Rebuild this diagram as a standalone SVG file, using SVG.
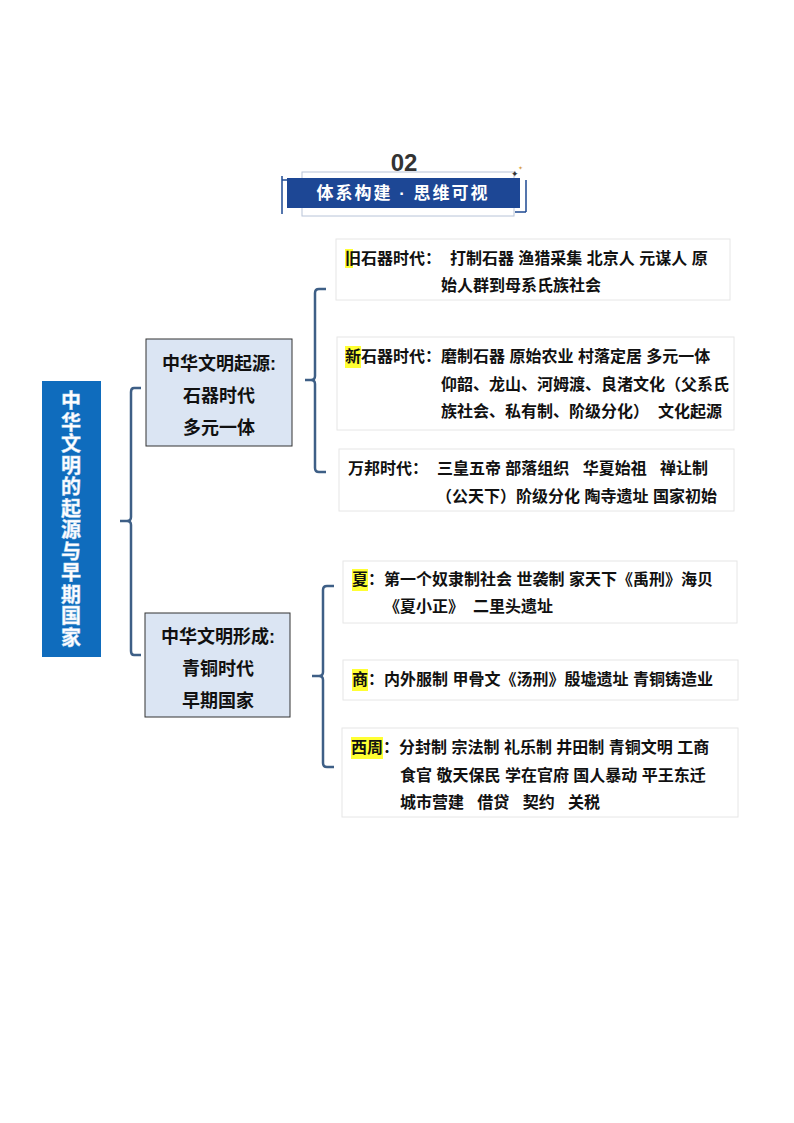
<svg xmlns="http://www.w3.org/2000/svg" width="794" height="1123" viewBox="0 0 794 1123">
<style>
.t{font-family:"Liberation Sans","Noto Sans CJK SC",sans-serif;font-size:16px;font-weight:bold;fill:#111;white-space:pre}
.box{fill:#fff;stroke:#e6e6e6;stroke-width:1}
.mid{fill:#dbe5f3;stroke:#333;stroke-width:1}
.mt{font-family:"Liberation Sans","Noto Sans CJK SC",sans-serif;font-size:18px;font-weight:bold;fill:#111;text-anchor:middle}
.br{fill:none;stroke:#3e5f86;stroke-width:2.5}
.hl{fill:#ffff33}
</style>
<rect width="794" height="1123" fill="#fff"/>
<g id="header">
<text x="404" y="171" font-family="Liberation Sans,sans-serif" font-size="24" font-weight="bold" fill="#333" text-anchor="middle">02</text>
<path d="M282 176 V214 M282 180 H293" stroke="#1e4a93" stroke-width="1.5" fill="none"/>
<path d="M526 180 V212 M526 212 H515" stroke="#1e4a93" stroke-width="1.5" fill="none"/>
<rect x="302" y="172" width="212" height="44" fill="none" stroke="#b8c4d8" stroke-width="1"/>
<rect x="287" y="178" width="233" height="30" fill="#1d4795"/>
<text x="403" y="199" font-family="Liberation Sans,Noto Sans CJK SC,sans-serif" font-size="17" font-weight="bold" fill="#fff" text-anchor="middle" letter-spacing="2">体系构建 · 思维可视</text>
<text x="511" y="177" font-size="9" fill="#333" font-family="DejaVu Sans,sans-serif">✦</text>
<text x="518" y="170" font-size="6" fill="#d9a24a" font-family="DejaVu Sans,sans-serif">✦</text>
</g>
<g id="root">
<rect x="42" y="381" width="59" height="276" fill="#0f6cbd"/>
<text font-family="Liberation Sans,Noto Sans CJK SC,sans-serif" font-size="20" font-weight="bold" fill="#fff" text-anchor="middle" stroke="#cfe0f5" stroke-width="0.5">
<tspan x="71" y="408">中</tspan><tspan x="71" y="429.5">华</tspan><tspan x="71" y="451">文</tspan><tspan x="71" y="472.5">明</tspan><tspan x="71" y="494">的</tspan><tspan x="71" y="515.5">起</tspan><tspan x="71" y="537">源</tspan><tspan x="71" y="558.5">与</tspan><tspan x="71" y="580">早</tspan><tspan x="71" y="601.5">期</tspan><tspan x="71" y="623">国</tspan><tspan x="71" y="644.5">家</tspan>
</text>
</g>
<g id="n1">
<rect class="mid" x="146" y="339" width="146" height="107"/>
<text class="mt" x="219" y="370">中华文明起源:</text>
<text class="mt" x="219" y="402">石器时代</text>
<text class="mt" x="219" y="434">多元一体</text>
</g>
<g id="n2">
<rect class="mid" x="145" y="613" width="145" height="104"/>
<text class="mt" x="218" y="643">中华文明形成:</text>
<text class="mt" x="218" y="675">青铜时代</text>
<text class="mt" x="218" y="707">早期国家</text>
</g>
<g id="connectors">
<path class="br" d="M141 388 H134 Q131 388 131 392 V517 Q131 521 127 521 H120 M127 521 Q131 521 131 525 V651 Q131 655 134 655 H141"/>
<path class="br" d="M326 289 H319 Q315 289 315 293 V376 Q315 380 311 380 H305 M311 380 Q315 380 315 384 V468 Q315 472 319 472 H326"/>
<path class="br" d="M334 586 H327 Q323 586 323 590 V672 Q323 676 319 676 H312 M319 676 Q323 676 323 680 V763 Q323 767 327 767 H334"/>
</g>
<g id="c1">
<rect class="box" x="336" y="239" width="394" height="61"/>
<rect class="hl" x="345" y="249" width="8" height="19"/>
<text class="t" x="345" y="264" xml:space="preserve">旧石器时代：  打制石器 渔猎采集 北京人 元谋人 原</text>
<text class="t" x="441" y="291">始人群到母系氏族社会</text>
</g>
<g id="c2">
<rect class="box" x="337" y="337" width="397" height="93"/>
<rect class="hl" x="345" y="346" width="16" height="22"/>
<text class="t" x="345" y="362" xml:space="preserve">新石器时代：磨制石器 原始农业 村落定居 多元一体</text>
<text class="t" x="441" y="390">仰韶、龙山、河姆渡、良渚文化（父系氏</text>
<text class="t" x="441" y="417" xml:space="preserve">族社会、私有制、阶级分化）  文化起源</text>
</g>
<g id="c3">
<rect class="box" x="339" y="449" width="395" height="62"/>
<text class="t" x="348" y="474" xml:space="preserve">万邦时代：  三皇五帝 部落组织   华夏始祖   禅让制</text>
<text class="t" x="436" y="502" xml:space="preserve">（公天下）阶级分化 陶寺遗址 国家初始</text>
</g>
<g id="c4">
<rect class="box" x="343" y="561" width="394" height="62"/>
<rect class="hl" x="352" y="569" width="16" height="22"/>
<text class="t" x="352" y="585" xml:space="preserve">夏：第一个奴隶制社会 世袭制 家天下《禹刑》海贝</text>
<text class="t" x="384" y="612" xml:space="preserve">《夏小正》  二里头遗址</text>
</g>
<g id="c5">
<rect class="box" x="343" y="660" width="395" height="40"/>
<rect class="hl" x="352" y="669" width="16" height="22"/>
<text class="t" x="352" y="685" xml:space="preserve">商：内外服制 甲骨文《汤刑》殷墟遗址 青铜铸造业</text>
</g>
<g id="c6">
<rect class="box" x="342" y="728" width="396" height="89"/>
<rect class="hl" x="351" y="737" width="32" height="22"/>
<text class="t" x="351" y="753" xml:space="preserve">西周：分封制 宗法制 礼乐制 井田制 青铜文明 工商</text>
<text class="t" x="400" y="781" xml:space="preserve">食官 敬天保民 学在官府 国人暴动 平王东迁</text>
<text class="t" x="400" y="808" xml:space="preserve">城市营建   借贷   契约   关税</text>
</g>
</svg>
